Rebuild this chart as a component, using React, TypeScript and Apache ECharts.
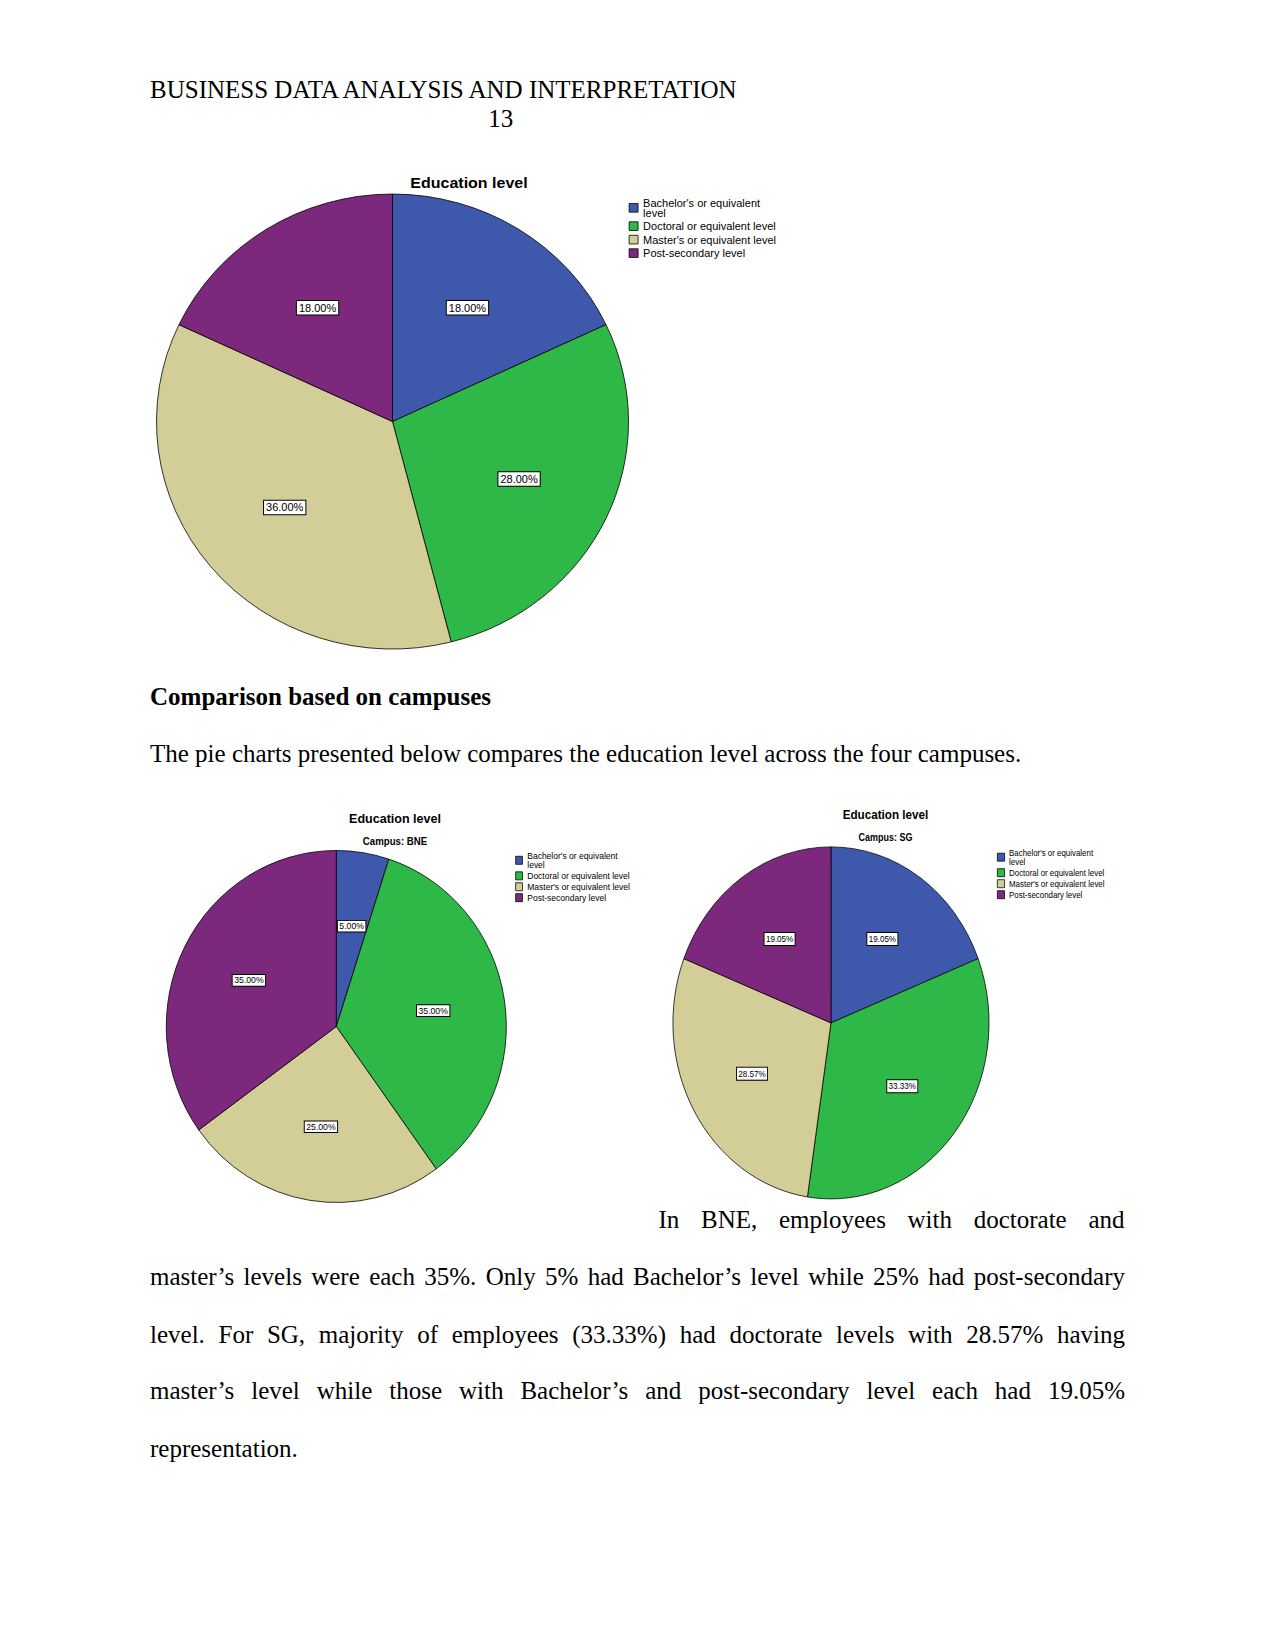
import React, { useEffect, useRef } from "react";
import * as echarts from "echarts";

// ---------- data ----------
const categories = [
  "Bachelor's or equivalent level",
  "Doctoral or equivalent level",
  "Master's or equivalent level",
  "Post-secondary level",
];
const sliceColors = ["#3E58AC", "#2EB848", "#D3CE97", "#7C287D"];
const overallPct = [18.0, 28.0, 36.0, 18.0];
const bnePct = [5.0, 35.0, 25.0, 35.0];
const sgPct = [19.05, 33.33, 28.57, 19.05];

const chartTitle = "Education level";
const bneSubtitle = "Campus: BNE";
const sgSubtitle = "Campus: SG";

const headerText = "BUSINESS DATA ANALYSIS AND INTERPRETATION";
const pageNumber = "13";
const sectionHeading = "Comparison based on campuses";
const introLine = "The pie charts presented below compares the education level across the four campuses.";
const paraFirstLine = "In BNE, employees with doctorate and";
const paraLines = [
  "master\u2019s levels were each 35%. Only 5% had Bachelor\u2019s level while 25% had post-secondary",
  "level. For SG, majority of employees (33.33%) had doctorate levels with 28.57% having",
  "master\u2019s level while those with Bachelor\u2019s and post-secondary level each had 19.05%",
];
const paraLastLine = "representation.";

const SANS = "'Liberation Sans', Arial, sans-serif";
const SERIF = "'Liberation Serif', 'Times New Roman', serif";

type PieCfg = {
  values: number[];
  center: [number, number];
  radius: number;
  labelRatio: number;
  titles: { text: string; x: number; y: number; size: number }[];
  legend: {
    left: number;
    top: number;
    fontSize: number;
    lineHeight: number;
    gap: number;
    iconW: number;
    iconH: number;
  };
  labelFont: number;
  labelPad: number[];
};

// the first (longest) legend entry wraps its last word onto a second line
function legendText(name: string) {
  if (name === categories[0]) {
    const k = name.lastIndexOf(" ");
    return name.slice(0, k) + "\n" + name.slice(k + 1);
  }
  return name;
}

function buildOption(cfg: PieCfg) {
  const mainData = categories.map((name, i) => ({
    name,
    value: cfg.values[i],
    itemStyle: { color: sliceColors[i] },
  }));
  const labelData = categories.map((name, i) => ({ name, value: cfg.values[i] }));
  return {
    animation: false,
    backgroundColor: "#ffffff",
    title: cfg.titles.map((t) => ({
      text: t.text,
      left: t.x,
      top: t.y - t.size / 2,
      textAlign: "center",
      padding: 0,
      textStyle: {
        fontFamily: SANS,
        fontWeight: "bold",
        fontSize: t.size,
        color: "#000",
        lineHeight: t.size,
      },
    })),
    legend: {
      orient: "vertical",
      left: cfg.legend.left,
      top: cfg.legend.top,
      padding: 0,
      itemGap: cfg.legend.gap,
      itemWidth: cfg.legend.iconW,
      itemHeight: cfg.legend.iconH,
      icon: "rect",
      selectedMode: false,
      formatter: legendText,
      data: categories.map((name, i) => ({
        name,
        itemStyle: { color: sliceColors[i], borderColor: "#000", borderWidth: 0.8 },
      })),
      textStyle: {
        fontFamily: SANS,
        fontSize: cfg.legend.fontSize,
        lineHeight: cfg.legend.lineHeight,
        color: "#000",
        padding: 0,
      },
    },
    series: [
      {
        type: "pie",
        center: cfg.center,
        radius: [0, cfg.radius],
        startAngle: 90,
        clockwise: true,
        label: { show: false },
        labelLine: { show: false },
        emphasis: { disabled: true },
        itemStyle: { borderColor: "#000", borderWidth: 0.8 },
        data: mainData,
      },
      {
        type: "pie",
        center: cfg.center,
        radius: [0, cfg.radius * cfg.labelRatio * 2],
        startAngle: 90,
        clockwise: true,
        silent: true,
        emphasis: { disabled: true },
        itemStyle: { color: "rgba(0,0,0,0)", borderWidth: 0 },
        labelLine: { show: false },
        label: {
          show: true,
          position: "inner",
          formatter: (p: any) => `${Number(p.value).toFixed(2)}%`,
          fontFamily: SANS,
          fontSize: cfg.labelFont,
          lineHeight: cfg.labelFont,
          color: "#000",
          backgroundColor: "#fff",
          borderColor: "#000",
          borderWidth: 1,
          padding: cfg.labelPad,
        },
        data: labelData,
      },
    ],
  };
}

function PieChart(props: {
  left: number;
  top: number;
  width: number;
  height: number;
  sx: number;
  sy: number;
  cfg: PieCfg;
}) {
  const ref = useRef<HTMLDivElement | null>(null);
  useEffect(() => {
    if (!ref.current) return;
    const chart = echarts.init(ref.current, null, { renderer: "svg" });
    chart.setOption(buildOption(props.cfg) as any);
    return () => chart.dispose();
  }, []);
  return (
    <div
      ref={ref}
      style={{
        position: "absolute",
        left: props.left,
        top: props.top,
        width: props.width,
        height: props.height,
        transform: `scale(${props.sx}, ${props.sy})`,
        transformOrigin: "0 0",
      }}
    />
  );
}

const mainCfg: PieCfg = {
  values: overallPct,
  center: [252.5, 271.3],
  radius: 236,
  labelRatio: 0.58,
  titles: [{ text: chartTitle, x: 329, y: 23.5, size: 16 }],
  legend: { left: 488.7, top: 39.1, fontSize: 11, lineHeight: 10, gap: 3, iconW: 9, iconH: 9 },
  labelFont: 11,
  labelPad: [1.5, 2],
};

const bneCfg: PieCfg = {
  values: bnePct,
  center: [203.2, 236.5],
  radius: 176,
  labelRatio: 0.56,
  titles: [
    { text: chartTitle, x: 264, y: 28.3, size: 13 },
    { text: bneSubtitle, x: 264, y: 51.7, size: 10 },
  ],
  legend: { left: 388.5, top: 61, fontSize: 8.8, lineHeight: 9.3, gap: 1.6, iconW: 7, iconH: 8 },
  labelFont: 9,
  labelPad: [0.8, 1.5],
};

const sgCfg: PieCfg = {
  values: sgPct,
  center: [190.4, 232.9],
  radius: 176,
  labelRatio: 0.56,
  titles: [
    { text: chartTitle, x: 251.1, y: 24.3, size: 13 },
    { text: sgSubtitle, x: 251.1, y: 47.7, size: 10 },
  ],
  legend: { left: 375.3, top: 58.2, fontSize: 8.8, lineHeight: 9, gap: 2, iconW: 8, iconH: 8 },
  labelFont: 9,
  labelPad: [1.5, 1.5],
};

const textBase: React.CSSProperties = {
  position: "absolute",
  fontFamily: SERIF,
  fontSize: 25,
  lineHeight: "25px",
  color: "#000",
  whiteSpace: "nowrap",
};

const justified: React.CSSProperties = {
  ...textBase,
  textAlign: "justify",
  textAlignLast: "justify" as any,
  whiteSpace: "normal",
};

export default function App() {
  const lineTops = [1263.6, 1321.6, 1378.4];
  return (
    <div
      style={{
        position: "absolute",
        left: 0,
        top: 0,
        width: 1275,
        height: 1650,
        background: "#fff",
        overflow: "hidden",
      }}
    >
      <div style={{ ...textBase, left: 150, top: 76.8 }}>{headerText}</div>
      <div style={{ ...textBase, left: 488.3, top: 106.3 }}>{pageNumber}</div>

      <PieChart left={140} top={160} width={700} height={540} sx={1} sy={0.964} cfg={mainCfg} />

      <div style={{ ...textBase, left: 150, top: 684, fontWeight: "bold" }}>{sectionHeading}</div>
      <div style={{ ...textBase, left: 150, top: 741 }}>{introLine}</div>

      <PieChart left={140} top={790} width={600} height={420} sx={0.966} sy={1} cfg={bneCfg} />
      <PieChart left={660} top={790} width={560} height={420} sx={0.898} sy={1} cfg={sgCfg} />

      <div style={{ ...justified, left: 658.5, top: 1207, width: 466 }}>{paraFirstLine}</div>
      {paraLines.map((t, i) => (
        <div key={i} style={{ ...justified, left: 150, top: lineTops[i], width: 975 }}>
          {t}
        </div>
      ))}
      <div style={{ ...textBase, left: 150, top: 1436.3 }}>{paraLastLine}</div>
    </div>
  );
}
